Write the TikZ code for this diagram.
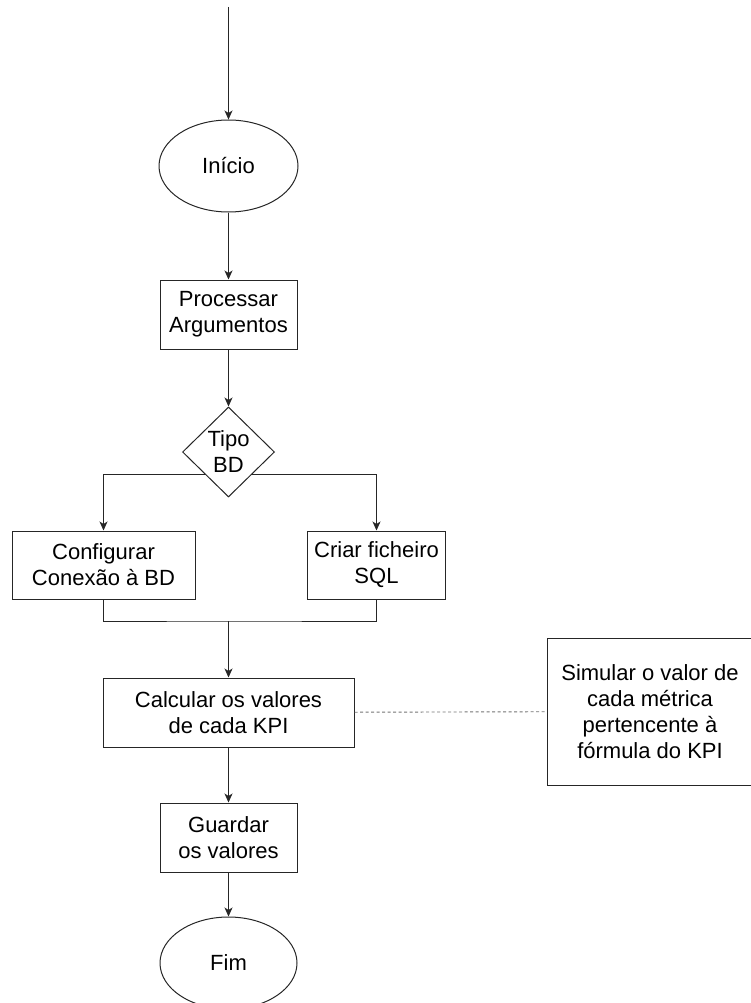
\documentclass[tikz,border=0pt]{standalone}
\usepackage{fontspec}
\setmainfont{Liberation Sans}
\usetikzlibrary{shapes.geometric,arrows.meta}
\begin{document}
\begin{tikzpicture}[x=1pt,y=-1pt,
  line/.style={draw=black!85, line width=1pt},
  arr/.style={line, -{Stealth[length=9pt,width=8pt,inset=2.5pt]}},
  txt/.style={align=center, font=\fontsize{22}{26}\selectfont},
  box/.style={line, rectangle, inner sep=0pt, txt},
  term/.style={line, ellipse, inner sep=0pt, txt},
  diam/.style={line, diamond, inner sep=-10pt, txt},
  note/.style={draw=black!55, line width=0.9pt, dash pattern=on 3pt off 2.5pt}]
\useasboundingbox (0,0) rectangle (750,1003);
\coordinate (top) at (228.5,7);
\node[term, minimum width=139pt, minimum height=92pt] (ini) at (228.5,166) {Início};
\node[box, minimum width=137pt, minimum height=69pt] (proc) at (228.5,314.5) {Processar\\Argumentos};
\node[diam, minimum width=92pt, minimum height=90pt] (dia) at (228.5,452) {Tipo\\BD};
\node[box, minimum width=183pt, minimum height=68pt] (cfg) at (103.5,565) {Configurar\\Conexão à BD};
\node[box, minimum width=138pt, minimum height=68pt] (sql) at (376.5,565) {Criar ficheiro\\SQL};
\node[box, minimum width=251pt, minimum height=69pt] (calc) at (228.5,712.5) {Calcular os valores\\de cada KPI};
\node[box, minimum width=206pt, minimum height=147pt] (sim) at (650,711.5) {Simular o valor de\\cada métrica\\pertencente à\\fórmula do KPI};
\node[box, minimum width=137pt, minimum height=69pt] (grd) at (228.5,837.5) {Guardar\\os valores};
\node[term, minimum width=137pt, minimum height=92pt] (fim) at (228.5,963) {Fim};
\coordinate (m) at (228.5,621);
\draw[arr] (top) -- (ini);
\draw[arr] (ini) -- (proc);
\draw[arr] (proc) -- (dia);
\draw[arr] (dia.south west) -| (cfg.north);
\draw[arr] (dia.south east) -| (sql.north);
\draw[line] (cfg.south) |- (m) -| (sql.south);
\draw[arr] (m) -- (calc);
\draw[note] (calc) -- (sim);
\draw[arr] (calc) -- (grd);
\draw[arr] (grd) -- (fim);
\end{tikzpicture}
\end{document}
